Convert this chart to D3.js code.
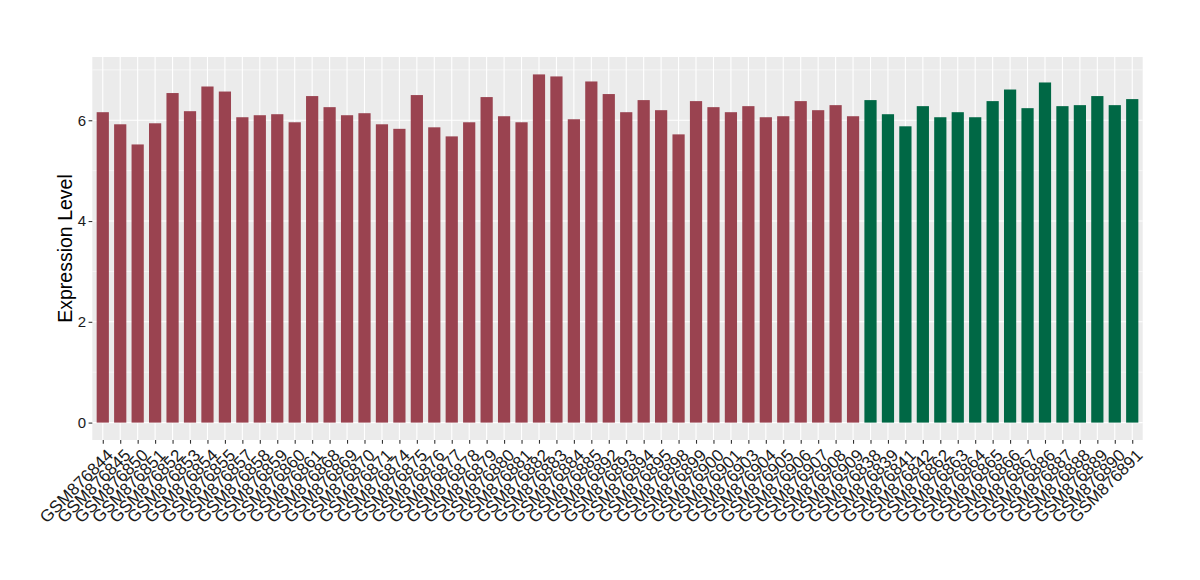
<!DOCTYPE html>
<html>
<head>
<meta charset="utf-8">
<script src="https://cdn.jsdelivr.net/npm/d3@7"></script>
<style>
  body { margin: 0; background: #fff; }
  text { font-family: "Liberation Sans", Arial, sans-serif; }
</style>
</head>
<body>
<svg id="chart" width="1200" height="580"></svg>
<script>
// samples, in plotting order
var redSamples = ["GSM876844","GSM876845","GSM876850","GSM876851","GSM876852","GSM876853","GSM876854","GSM876855","GSM876857","GSM876858",
    "GSM876859","GSM876860","GSM876861","GSM876868","GSM876869","GSM876870","GSM876871","GSM876874","GSM876875","GSM876876",
    "GSM876877","GSM876878","GSM876879","GSM876880","GSM876881","GSM876882","GSM876883","GSM876884","GSM876885","GSM876892",
    "GSM876893","GSM876894","GSM876895","GSM876898","GSM876899","GSM876900","GSM876901","GSM876903","GSM876904","GSM876905",
    "GSM876906","GSM876907","GSM876908","GSM876909"];
var redValues = [6.16,5.92,5.52,5.94,6.54,6.18,6.67,6.57,6.06,6.10,
    6.12,5.96,6.48,6.26,6.10,6.14,5.92,5.83,6.50,5.86,
    5.68,5.96,6.46,6.08,5.96,6.91,6.87,6.02,6.77,6.52,
    6.16,6.40,6.20,5.72,6.38,6.26,6.16,6.28,6.06,6.08,
    6.38,6.20,6.30,6.08];
var greenSamples = ["GSM876838","GSM876839","GSM876841","GSM876842","GSM876862","GSM876863","GSM876864","GSM876865","GSM876866","GSM876867",
    "GSM876886","GSM876887","GSM876888","GSM876889","GSM876890","GSM876891"];
var greenValues = [6.40,6.12,5.88,6.28,6.06,6.16,6.06,6.38,6.61,6.24,
    6.75,6.28,6.30,6.48,6.30,6.42];
var yTicks = [0, 2, 4, 6];

var redColor = "#9a4350";
var greenColor = "#006845";

// one row per bar
var bars = [];
redSamples.forEach(function(s, i){ bars.push({name: s, value: redValues[i], color: redColor}); });
greenSamples.forEach(function(s, i){ bars.push({name: s, value: greenValues[i], color: greenColor}); });

var svg = d3.select("#chart");
var panelL = 92.3, panelR = 1142.7, panelT = 57, panelB = 440;

var x = d3.scalePoint()
    .domain(bars.map(function(d){ return d.name; }))
    .range([panelL, panelR])
    .padding(0.6);
var step = x.step();
var barW = step * 0.7;

var maxV = d3.max(bars, function(d){ return d.value; });
var pad = maxV * 0.05;
var y = d3.scaleLinear()
    .domain([-pad, maxV + pad])
    .range([panelB, panelT]);

// panel background
svg.append("rect")
    .attr("x", panelL).attr("y", panelT)
    .attr("width", panelR - panelL).attr("height", panelB - panelT)
    .attr("fill", "#ebebeb");

// minor grid
var minor = [1, 3, 5, 7].filter(function(v){ return y(v) > panelT; });
svg.append("g").selectAll("line").data(minor).join("line")
    .attr("x1", panelL).attr("x2", panelR)
    .attr("y1", function(d){ return y(d); }).attr("y2", function(d){ return y(d); })
    .attr("stroke", "#fff").attr("stroke-width", 0.55);

// major grid
svg.append("g").selectAll("line").data(yTicks).join("line")
    .attr("x1", panelL).attr("x2", panelR)
    .attr("y1", function(d){ return y(d); }).attr("y2", function(d){ return y(d); })
    .attr("stroke", "#fff").attr("stroke-width", 1.1);
svg.append("g").selectAll("line").data(bars).join("line")
    .attr("x1", function(d){ return x(d.name); }).attr("x2", function(d){ return x(d.name); })
    .attr("y1", panelT).attr("y2", panelB)
    .attr("stroke", "#fff").attr("stroke-width", 1.1);

// bars
svg.append("g").selectAll("rect").data(bars).join("rect")
    .attr("x", function(d){ return x(d.name) - barW / 2; })
    .attr("width", barW)
    .attr("y", function(d){ return y(d.value); })
    .attr("height", function(d){ return y(0) - y(d.value); })
    .attr("fill", function(d){ return d.color; });

// y axis
var yAxis = svg.append("g")
    .attr("transform", "translate(" + panelL + ",0)")
    .call(d3.axisLeft(y).tickValues(yTicks).tickSize(3.7).tickPadding(2.5).tickFormat(d3.format("d")));
yAxis.select(".domain").remove();
yAxis.selectAll(".tick line").attr("stroke", "#333").attr("stroke-width", 1.1);
yAxis.selectAll(".tick text").attr("fill", "#1a1a1a").style("font-size", "15px")
    .style("font-family", "Liberation Sans, Arial, sans-serif");

// x axis
var xAxis = svg.append("g")
    .attr("transform", "translate(0," + panelB + ")")
    .call(d3.axisBottom(x).tickSize(3.7).tickFormat(""));
xAxis.select(".domain").remove();
xAxis.selectAll(".tick line").attr("stroke", "#333").attr("stroke-width", 1.1);

svg.append("g").selectAll("text").data(bars).join("text")
    .attr("transform", function(d){ return "translate(" + (x(d.name) + 3) + "," + (panelB + 8) + ") rotate(-45)"; })
    .attr("text-anchor", "end")
    .attr("dy", "0.7em")
    .attr("fill", "#1a1a1a")
    .style("font-size", "17px")
    .text(function(d){ return d.name; });

// y title
svg.append("text")
    .attr("transform", "translate(72," + ((panelT + panelB) / 2) + ") rotate(-90)")
    .attr("text-anchor", "middle")
    .attr("fill", "#000")
    .style("font-size", "19.5px")
    .text("Expression Level");
</script>
</body>
</html>
